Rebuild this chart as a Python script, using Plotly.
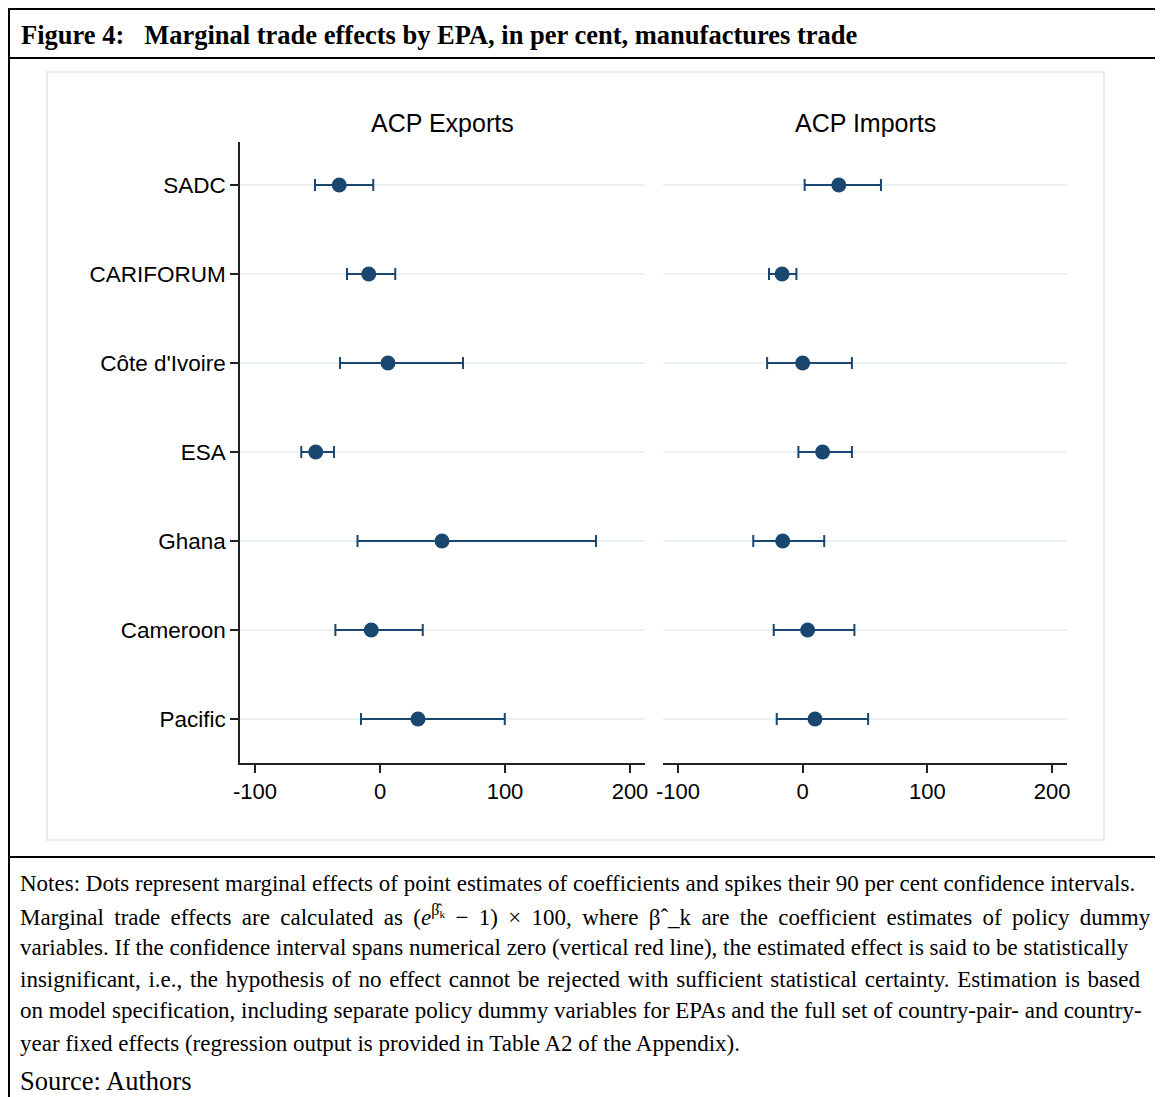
import plotly.graph_objects as go
from plotly.subplots import make_subplots

W, H = 1163, 1097
OX, OY = 8, 8  # page body margin offset

categories = ["SADC", "CARIFORUM", "Côte d'Ivoire", "ESA", "Ghana", "Cameroon", "Pacific"]
panel_titles = ["ACP Exports", "ACP Imports"]

exp_est = [-32.6, -9.0, 6.4, -51.4, 49.6, -7.0, 30.4]
exp_lo = [-52.0, -26.4, -32.0, -63.0, -18.0, -35.7, -15.2]
exp_hi = [-5.4, 12.2, 66.4, -36.8, 172.8, 34.2, 99.8]

imp_est = [29.0, -16.5, 0.0, 16.0, -16.0, 4.0, 9.9]
imp_lo = [1.6, -27.0, -28.5, -3.4, -39.6, -23.2, -20.8]
imp_hi = [62.8, -5.0, 39.5, 39.5, 17.3, 41.5, 52.5]

x_tickvals = [-100, 0, 100, 200]
x_ticktext = ["-100", "0", "100", "200"]

title_text = "<b>Figure 4:   Marginal trade effects by EPA, in per cent, manufactures trade</b>"
notes_lines = [
    "Notes: Dots represent marginal effects of point estimates of coefficients and spikes their 90 per cent confidence intervals.",
    "Marginal trade effects are calculated as (<i>e</i><sup>β̂<sub>k</sub></sup> − 1) × 100, where βˆ_k are the coefficient estimates of policy dummy",
    "variables. If the confidence interval spans numerical zero (vertical red line), the estimated effect is said to be statistically",
    "insignificant, i.e., the hypothesis of no effect cannot be rejected with sufficient statistical certainty. Estimation is based",
    "on model specification, including separate policy dummy variables for EPAs and the full set of country-pair- and country-",
    "year fixed effects (regression output is provided in Table A2 of the Appendix).",
]
source_text = "Source: Authors"

NAVY = "#1a476f"
RED = "#cc1040"
GRID = "#eaf1f3"
SANS = "Liberation Sans, Arial, sans-serif"
SERIF = "Liberation Serif, Times New Roman, serif"


def px(xp):
    return (xp - OX) / W


def py(yp):
    return 1 - (yp - OY) / H


def widen(line, extra):
    """Approximate text justification by adding a narrow space to every word gap."""
    return line.replace(" ", " " + extra) if extra else line


fig = make_subplots(rows=1, cols=2, shared_yaxes=False)

for col, (est, lo, hi) in enumerate([(exp_est, exp_lo, exp_hi), (imp_est, imp_lo, imp_hi)], start=1):
    fig.add_vline(x=0, line=dict(color=RED, width=2), layer="between", row=1, col=col)
    fig.add_trace(
        go.Scatter(
            x=est,
            y=categories,
            mode="markers",
            marker=dict(size=15, color=NAVY),
            error_x=dict(
                type="data",
                symmetric=False,
                array=[h - e for h, e in zip(hi, est)],
                arrayminus=[e - l for e, l in zip(est, lo)],
                color=NAVY,
                thickness=2,
                width=6,
            ),
            showlegend=False,
        ),
        row=1,
        col=col,
    )

ydom = [py(763), py(142)]
yrange = [6.494, -0.483]

fig.update_layout(
    width=W,
    height=H,
    autosize=False,
    margin=dict(l=0, r=0, t=0, b=0, pad=0, autoexpand=False),
    paper_bgcolor="white",
    plot_bgcolor="white",
    font=dict(family=SANS, size=22, color="black"),
    xaxis=dict(domain=[px(240), px(645)]),
    xaxis2=dict(domain=[px(663), px(1067)]),
    yaxis=dict(domain=ydom),
    yaxis2=dict(domain=ydom),
)

for ax in ["xaxis", "xaxis2"]:
    fig.layout[ax].update(
        range=[-112, 212],
        automargin=False,
        tickvals=x_tickvals,
        ticktext=x_ticktext,
        showgrid=False,
        zeroline=False,
        showline=True,
        linecolor="#222",
        linewidth=1.5,
        ticks="outside",
        ticklen=8,
        tickwidth=1.5,
        tickcolor="#222",
        tickfont=dict(family=SANS, size=22, color="black"),
    )

fig.layout.yaxis.update(
    type="category",
    automargin=False,
    categoryorder="array",
    categoryarray=categories,
    range=yrange,
    showgrid=True,
    gridcolor=GRID,
    gridwidth=2,
    zeroline=False,
    showline=True,
    linecolor="#222",
    linewidth=1.5,
    ticks="outside",
    ticklen=8,
    tickwidth=1.5,
    tickcolor="#222",
    ticklabelstandoff=0,
    tickfont=dict(family=SANS, size=22.5, color="black"),
)
fig.layout.yaxis2.update(
    type="category",
    automargin=False,
    categoryorder="array",
    categoryarray=categories,
    range=yrange,
    showgrid=True,
    gridcolor=GRID,
    gridwidth=2,
    zeroline=False,
    showline=False,
    ticks="",
    showticklabels=False,
)

shapes = [
    # Stata graph region box
    dict(type="rect", xref="paper", yref="paper", x0=px(47), x1=px(1104), y0=py(840), y1=py(72),
         line=dict(color="#e6eef1", width=2), fillcolor="rgba(0,0,0,0)", layer="below"),
    # outer frame lines
    dict(type="line", xref="paper", yref="paper", x0=px(9), x1=1.0, y0=py(9), y1=py(9),
         line=dict(color="black", width=2)),
    dict(type="line", xref="paper", yref="paper", x0=px(9), x1=1.0, y0=py(58), y1=py(58),
         line=dict(color="black", width=2)),
    dict(type="line", xref="paper", yref="paper", x0=px(9), x1=1.0, y0=py(857), y1=py(857),
         line=dict(color="black", width=2)),
    dict(type="line", xref="paper", yref="paper", x0=px(9), x1=px(9), y0=py(8), y1=0.0,
         line=dict(color="black", width=2)),
]
for s in shapes:
    fig.add_shape(**s)

annotations = [
    dict(text=panel_titles[0], x=(px(240) + px(645)) / 2, y=py(123), xref="paper", yref="paper",
         showarrow=False, xanchor="center", yanchor="middle", font=dict(family=SANS, size=25, color="black")),
    dict(text=panel_titles[1], x=(px(663) + px(1067)) / 2, y=py(123), xref="paper", yref="paper",
         showarrow=False, xanchor="center", yanchor="middle", font=dict(family=SANS, size=25, color="black")),
    dict(text=title_text, x=px(19), y=py(35), xref="paper", yref="paper", showarrow=False,
         xanchor="left", yanchor="middle", font=dict(family=SERIF, size=26.5, color="black")),
]
line_y = [883, 915, 947, 979, 1011, 1043]
spread = ["", "\u2009", "", "\u200a", "", ""]
for t, yy, sp in zip(notes_lines, line_y, spread):
    annotations.append(dict(text=widen(t, sp), x=px(18), y=py(yy), xref="paper", yref="paper", showarrow=False,
                            xanchor="left", yanchor="middle", align="left",
                            font=dict(family=SERIF, size=23, color="black")))
annotations.append(dict(text=source_text, x=px(18), y=py(1081), xref="paper", yref="paper", showarrow=False,
                        xanchor="left", yanchor="middle", font=dict(family=SERIF, size=26.5, color="black")))
fig.update_layout(annotations=annotations)

fig.write_html("out.html")
